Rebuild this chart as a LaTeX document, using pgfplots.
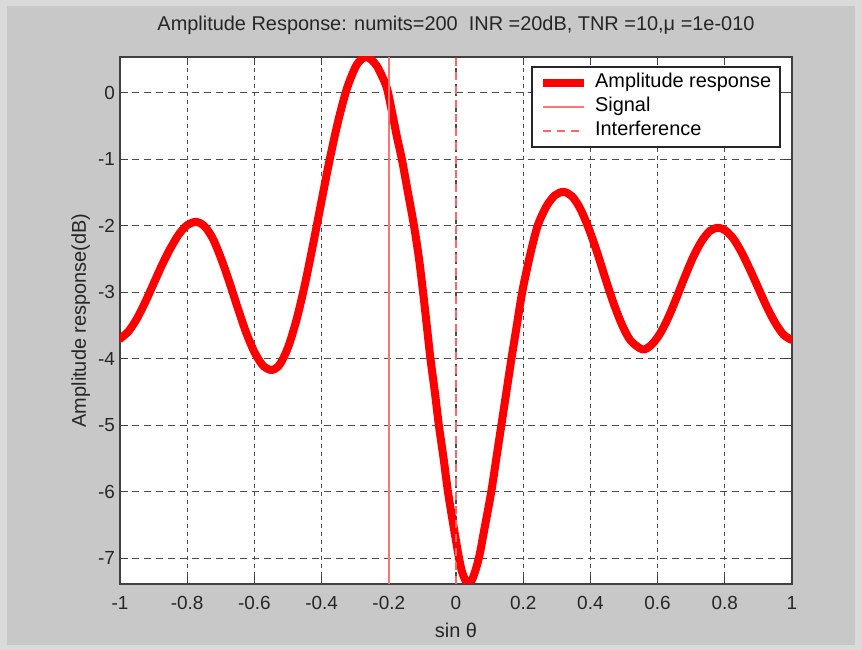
\documentclass[border=0pt]{standalone}
\usepackage{fontspec}
\setmainfont{Liberation Sans}
\usepackage{pgfplots}
\pgfplotsset{compat=1.18}
\definecolor{figgrey}{HTML}{C8C8C8}
\definecolor{figborder}{HTML}{DADADA}
\pgfplotstableread{
x y
-1.000 -3.70
-0.975 -3.59
-0.950 -3.40
-0.925 -3.15
-0.900 -2.87
-0.875 -2.59
-0.850 -2.34
-0.825 -2.13
-0.800 -1.99
-0.773 -1.94
-0.750 -2.00
-0.725 -2.18
-0.700 -2.48
-0.675 -2.84
-0.650 -3.23
-0.625 -3.60
-0.600 -3.90
-0.575 -4.10
-0.549 -4.17
-0.525 -4.09
-0.500 -3.83
-0.475 -3.42
-0.450 -2.89
-0.425 -2.27
-0.400 -1.62
-0.375 -0.98
-0.350 -0.41
-0.325 0.06
-0.300 0.38
-0.283 0.50
-0.266 0.54
-0.250 0.49
-0.235 0.40
-0.220 0.25
-0.205 0.06
-0.190 -0.30
-0.175 -0.68
-0.161 -1.00
-0.143 -1.50
-0.125 -2.00
-0.110 -2.50
-0.098 -3.00
-0.087 -3.50
-0.076 -4.00
-0.063 -4.50
-0.051 -5.00
-0.037 -5.50
-0.024 -6.00
-0.008 -6.50
0.009 -7.00
0.020 -7.24
0.036 -7.39
0.050 -7.30
0.068 -7.00
0.085 -6.55
0.105 -6.00
0.120 -5.50
0.135 -5.00
0.150 -4.50
0.165 -4.00
0.180 -3.53
0.197 -3.00
0.220 -2.45
0.243 -2.00
0.270 -1.70
0.295 -1.54
0.320 -1.49
0.345 -1.555
0.370 -1.745
0.395 -2.04
0.420 -2.40
0.445 -2.80
0.470 -3.18
0.495 -3.50
0.520 -3.73
0.555 -3.86
0.580 -3.80
0.605 -3.64
0.630 -3.40
0.655 -3.10
0.680 -2.78
0.705 -2.48
0.730 -2.24
0.755 -2.08
0.779 -2.03
0.800 -2.065
0.825 -2.19
0.850 -2.40
0.875 -2.66
0.900 -2.94
0.925 -3.22
0.950 -3.46
0.975 -3.64
1.000 -3.72
}\ampdata
\begin{document}
\begin{tikzpicture}
\fill[figborder] (-60bp,-33bp) rectangle (371bp,292bp);
\fill[figgrey] (-56.5bp,-30.5bp) rectangle (367.5bp,289bp);
\begin{axis}[
  at={(0,0)}, anchor=south west,
  scale only axis, width=336bp, height=263.5bp,
  xmin=-1, xmax=1, ymin=-7.39, ymax=0.54,
  xtick={-1,-0.8,-0.6,-0.4,-0.2,0,0.2,0.4,0.6,0.8,1},
  ytick={-7,-6,-5,-4,-3,-2,-1,0},
  axis background/.style={fill=white},
  grid=major,
  x grid style={black!70, line width=0.55bp, dash pattern=on 2bp off 2bp},
  y grid style={black!70, line width=0.55bp, dash pattern=on 3.5bp off 2.5bp},
  tick align=inside, major tick length=4bp,
  every tick/.style={black!75, line width=0.5bp},
  axis line style={black!75, line width=0.75bp},
  /pgf/number format/assume math mode=true,
  tick label style={font=\fontsize{9.5}{11}\selectfont, text=black!85},
  x tick label style={yshift=-2.5bp},
  y tick label style={xshift=1bp},
  title={Amplitude Response: numits=200\ \ INR =20dB, TNR =10,μ =1e-010},
  title style={at={(axis description cs:0.5,1)}, anchor=base, yshift=7.5bp, font=\fontsize{10}{12}\selectfont, text=black!85},
  xlabel={sin θ},
  xlabel style={at={(axis description cs:0.5,0)}, anchor=base, yshift=-26.5bp, font=\fontsize{10}{12}\selectfont, text=black!85},
  ylabel={Amplitude response(dB)},
  ylabel style={at={(axis description cs:-0.0506,0.5)}, anchor=base, font=\fontsize{10}{12}\selectfont, text=black!85},
  legend style={at={(0.9836,0.9829)}, anchor=north east, draw=black!85, line width=0.75bp, fill=white,
    inner xsep=3.5bp, inner ysep=2bp, font=\fontsize{10}{12}\selectfont, row sep=0pt, column sep=2.5bp,
    nodes={inner xsep=1bp, inner ysep=1bp, text height=7.5bp, text depth=2.5bp}},
  legend cell align=left,
  legend image code/.code={\draw[#1, line cap=butt] (0bp,0bp) -- (20.5bp,0bp);},
]
\addplot[red, line width=4bp, smooth, tension=0.5, line join=round, line cap=round] table[x=x,y=y] {\ampdata};
\addlegendentry{Amplitude response}
\addplot[red!55, line width=0.75bp] coordinates {(-0.2,-7.39) (-0.2,0.54)};
\addlegendentry{Signal}
\addplot[red!60, line width=0.75bp, dash pattern=on 4bp off 3bp] coordinates {(0,-7.39) (0,0.54)};
\addlegendentry{Interference}
\end{axis}
\end{tikzpicture}
\end{document}
